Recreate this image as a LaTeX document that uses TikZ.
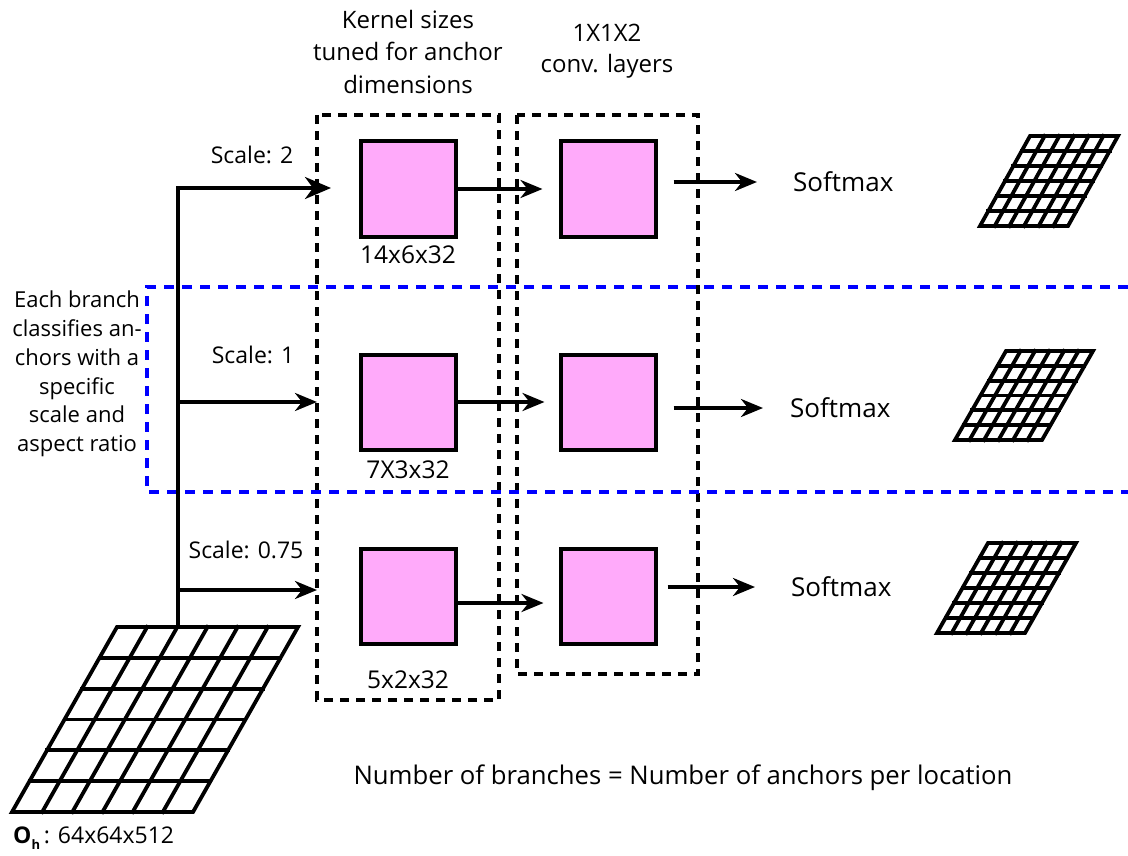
\documentclass[tikz,border=0pt]{standalone}
\usepackage{fontspec}
\setmainfont{Open Sans}
\usetikzlibrary{arrows.meta}
\newcommand\pargrid[5]{% #1 top-left x, #2 top-right x, #3 top y, #4 bottom-left x, #5 bottom y
  \draw[gridln] (#4,#5) -- (#1,#3) -- (#2,#3) -- ({#4+#2-#1},#5) -- cycle;
  \foreach \i in {1,...,5}{
    \draw[gridln] ({#4+(#1-#4)*\i/6},{#5+(#3-#5)*\i/6}) -- ++({#2-#1},0);
    \draw[gridln] ({#4+(#2-#1)*\i/6},#5) -- ++({#1-#4},{#3-#5});
  }}
\newcommand\fs[1]{\fontsize{#1}{#1}\selectfont}
\begin{document}
\begin{tikzpicture}[x=1pt,y=-1pt,
  txt/.style={font=\fs{24.5}, inner sep=0pt, align=center},
  arr/.style={line width=3.6pt,-{Stealth[length=22pt,width=18pt,inset=7pt]}},
  bigarr/.style={line width=3.6pt,-{Stealth[length=26pt,width=22pt,inset=8pt]}},
  pinkbox/.style={draw, line width=4pt, fill=pinkfill, minimum width=95pt, minimum height=95pt, inner sep=0pt},
  kdash/.style={draw, line width=3.6pt, dash pattern=on 9pt off 7pt},
  bdash/.style={draw=blue, line width=3.6pt, dash pattern=on 10pt off 8pt},
  gridln/.style={line width=3.8pt, line join=miter, line cap=rect},
]
\definecolor{pinkfill}{RGB}{255,170,250}
\useasboundingbox (0,0) rectangle (1128,856);

% dashed groups
\draw[kdash] (317,115) rectangle (499,700);
\draw[kdash] (517,115) rectangle (698,674);
\draw[bdash] (1128,287) -- (147,287) -- (147,492) -- (1128,492);

% headers
\node[txt, font={\fs{24}\baselineskip=32.5pt}] (hk) at (408,52) {Kernel sizes\\tuned for anchor\\dimensions};
\node[txt, font={\fs{24}\baselineskip=31pt}] (hc) at (607,51) {1X1X2\\conv. layers};

% input grid
\pargrid{117}{298}{627}{12}{812}
\coordinate (gtop) at (178,627);
\node[txt, font=\fs{23}, anchor=west] (olab) at (13,838) {\textbf{O}\raisebox{-6pt}{\fs{13}\textbf{h}}\,: 64x64x512};

% trunk
\coordinate (b1) at (178,188);
\coordinate (b2) at (178,402);
\coordinate (b3) at (178,590);
\draw[line width=3.6pt, line join=miter] (gtop) -- (b1) -- (316,188);
\coordinate (e1) at (331,188);
\coordinate (e2) at (317,402);
\coordinate (e3) at (317,590);
\draw[bigarr] (b1) -- (e1);
\draw[arr] (b2) -- (e2);
\draw[arr] (b3) -- (e3);
\node[txt, font=\fs{23}] (s1) at (252,155) {Scale: 2};
\node[txt, font=\fs{23}] (s2) at (253,355) {Scale: 1};
\node[txt, font=\fs{23}] (s3) at (246,550) {Scale: 0.75};

% boxes
\node[pinkbox] (k1) at (408,189) {};
\node[pinkbox] (k2) at (408,402) {};
\node[pinkbox] (k3) at (408,596) {};
\node[pinkbox] (c1) at (608,189) {};
\node[pinkbox] (c2) at (608,402) {};
\node[pinkbox] (c3) at (608,596) {};
\node[txt] (l1) at (408,255) {14x6x32};
\node[txt] (l2) at (408,470) {7X3x32};
\node[txt] (l3) at (408,680) {5x2x32};

\draw[arr, shorten >=16pt] (k1.east) -- (c1.west |- k1.east);
\draw[arr, shorten >=14pt] (k2.east) -- (c2.west |- k2.east);
\draw[arr, shorten >=15pt] (k3.east |- 0,603) -- (c3.west |- 0,603);

% softmax
\node[txt, font=\fs{26}, anchor=west] (m1) at (793,182) {Softmax};
\node[txt, font=\fs{26}, anchor=west] (m2) at (790,408) {Softmax};
\node[txt, font=\fs{26}, anchor=west] (m3) at (791,587) {Softmax};
\draw[arr, shorten <=16pt, shorten >=36pt] (c1.east |- m1.west) -- (m1.west);
\draw[arr, shorten <=16pt, shorten >=27pt] (c2.east |- m2.west) -- (m2.west);
\draw[arr, shorten <=10pt, shorten >=36pt] (c3.east |- m3.west) -- (m3.west);

% output grids
\pargrid{1030}{1118}{136}{980}{226}
\pargrid{1006}{1093}{351}{955}{440}
\pargrid{988}{1076}{543}{937}{633}

% side note
\node[txt, font={\fs{22}\baselineskip=28.8pt}] (note) at (77,374) {Each branch\\classifies an-\\chors with a\\specific\\scale and\\aspect ratio};

% footer
\node[txt, font=\fs{25.7}] (foot) at (683,778) {Number of branches = Number of anchors per location};
\end{tikzpicture}
\end{document}
